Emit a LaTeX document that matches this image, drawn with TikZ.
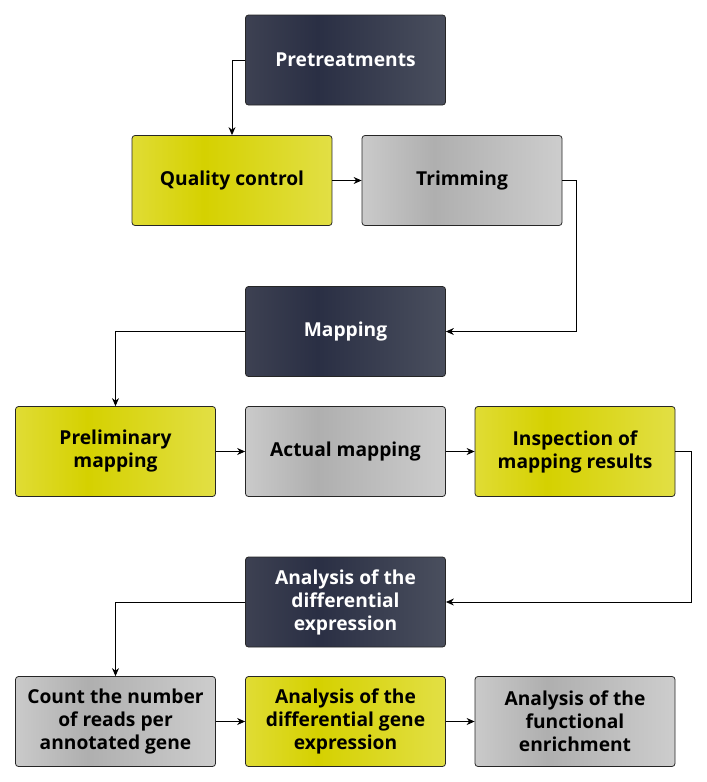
\documentclass[tikz,border=0pt]{standalone}
\usepackage{fontspec}
\setmainfont{Open Sans}
\usetikzlibrary{arrows.meta}
\definecolor{dkL}{HTML}{3D4152}
\definecolor{dkM}{HTML}{2A2F44}
\definecolor{dkR}{HTML}{4A4F5E}
\definecolor{ylL}{HTML}{E0DC35}
\definecolor{ylM}{HTML}{D5D100}
\definecolor{ylR}{HTML}{E2DF45}
\definecolor{gyL}{HTML}{CACACA}
\definecolor{gyM}{HTML}{AFAFAF}
\definecolor{gyR}{HTML}{CDCDCD}
\pgfdeclarehorizontalshading{darkshade}{100bp}{color(0bp)=(dkL); color(25bp)=(dkL); color(43bp)=(dkM); color(75bp)=(dkR); color(100bp)=(dkR)}
\pgfdeclarehorizontalshading{yellowshade}{100bp}{color(0bp)=(ylL); color(25bp)=(ylL); color(43bp)=(ylM); color(75bp)=(ylR); color(100bp)=(ylR)}
\pgfdeclarehorizontalshading{grayshade}{100bp}{color(0bp)=(gyL); color(25bp)=(gyL); color(43bp)=(gyM); color(75bp)=(gyR); color(100bp)=(gyR)}
\tikzset{
  boxbase/.style={draw=black!85, line width=0.8pt, rounded corners=3pt, minimum width=200pt, minimum height=90pt, align=center, font=\fontsize{19.2}{23}\selectfont\bfseries, inner sep=2pt},
  darkbox/.style={boxbase, shading=darkshade, text=white},
  yellowbox/.style={boxbase, shading=yellowshade, text=black},
  graybox/.style={boxbase, shading=grayshade, text=black},
  arr/.style={draw=black, line width=0.9pt, -{Stealth[length=8pt,width=7pt]}}
}
\begin{document}
\begin{tikzpicture}[x=1pt,y=-1pt]
\useasboundingbox (0,0) rectangle (707,782);
\node[darkbox] (pre) at (345.5,60) {Pretreatments};
\node[yellowbox] (qc) at (232,180.5) {Quality control};
\node[graybox] (trim) at (462,180.5) {Trimming};
\node[darkbox] (map) at (345.5,331.5) {Mapping};
\node[yellowbox] (prel) at (115.5,451.5) {Preliminary\\mapping};
\node[graybox] (act) at (345.5,451.5) {Actual mapping};
\node[yellowbox] (insp) at (575,451.5) {Inspection of\\mapping results};
\node[darkbox] (ade) at (345.5,602) {Analysis of the\\differential\\expression};
\node[graybox] (count) at (115.5,721.5) {Count the number\\of reads per\\annotated gene};
\node[yellowbox] (adge) at (345.5,721.5) {Analysis of the\\differential gene\\expression};
\node[graybox] (afe) at (575,721.5) {Analysis of the\\functional\\enrichment};
\draw[arr] (pre.west) -| (qc.north);
\draw[arr] (qc.east) -- (trim.west);
\draw[arr] (trim.east) -- ++(14,0) |- (map.east);
\draw[arr] (map.west) -| (prel.north);
\draw[arr] (prel.east) -- (act.west);
\draw[arr] (act.east) -- (insp.west);
\draw[arr] (insp.east) -- ++(16,0) |- (ade.east);
\draw[arr] (ade.west) -| (count.north);
\draw[arr] (count.east) -- (adge.west);
\draw[arr] (adge.east) -- (afe.west);
\end{tikzpicture}
\end{document}
